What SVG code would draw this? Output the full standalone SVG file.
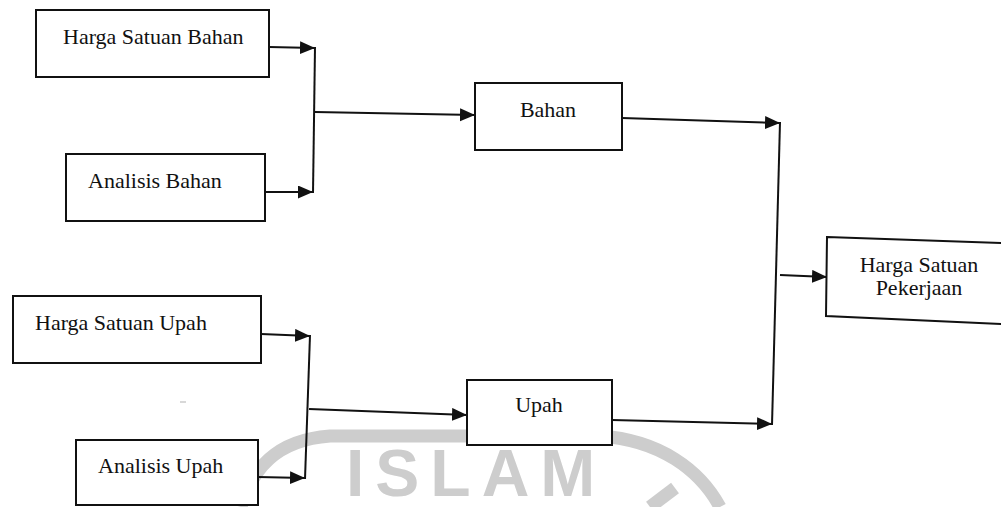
<svg xmlns="http://www.w3.org/2000/svg" width="1001" height="507" viewBox="0 0 1001 507">
<defs>
<style>
.box{fill:#fff;stroke:#111;stroke-width:2}
.lbl{font-size:22px;fill:#111}
.c{text-anchor:middle}
.ln{fill:none;stroke:#111;stroke-width:2}
.wm{fill:none;stroke:#cdcdcd;stroke-width:13}
</style>
<marker id="ah" markerUnits="userSpaceOnUse" markerWidth="16" markerHeight="14" refX="15" refY="6.5" orient="auto">
<path d="M0,0 L15,6.5 L0,13 z" fill="#111"/>
</marker>
</defs>
<rect width="1001" height="507" fill="#fff"/>
<g id="watermark">
<path class="wm" d="M241 507 C252 470 275 440 330 436 L600 436 C660 440 700 470 720 507"/>
<path class="wm" d="M675 488 L650 507"/>
<text x="346" y="496" font-family="Liberation Sans, Arial, sans-serif" font-weight="bold" font-size="66" letter-spacing="11" fill="#cdcdcd">ISLAM</text>
<rect x="180" y="401" width="6" height="2" fill="#d8d8d8"/>
</g>
<g id="connectors">
<line class="ln" x1="269" y1="47" x2="315" y2="48" marker-end="url(#ah)"/>
<line class="ln" x1="265" y1="192" x2="313" y2="192" marker-end="url(#ah)"/>
<line class="ln" x1="315" y1="47" x2="313" y2="193"/>
<line class="ln" x1="315" y1="112" x2="475" y2="115" marker-end="url(#ah)"/>
<line class="ln" x1="622" y1="118" x2="780" y2="123" marker-end="url(#ah)"/>
<line class="ln" x1="780" y1="122" x2="772" y2="425"/>
<line class="ln" x1="612" y1="420" x2="772" y2="424" marker-end="url(#ah)"/>
<line class="ln" x1="780" y1="275" x2="827" y2="277" marker-end="url(#ah)"/>
<line class="ln" x1="261" y1="334" x2="310" y2="336" marker-end="url(#ah)"/>
<line class="ln" x1="258" y1="477" x2="305" y2="478" marker-end="url(#ah)"/>
<line class="ln" x1="310" y1="335" x2="305" y2="479"/>
<line class="ln" x1="309" y1="409" x2="467" y2="415" marker-end="url(#ah)"/>
</g>
<g font-family="Liberation Serif, Times New Roman, DejaVu Serif, serif">
<g id="harga-satuan-bahan">
<rect class="box" x="36" y="10" width="233" height="67"/>
<text class="lbl" x="63" y="44">Harga Satuan Bahan</text>
</g>
<g id="analisis-bahan">
<rect class="box" x="66" y="154" width="199" height="67"/>
<text class="lbl" x="88" y="188">Analisis Bahan</text>
</g>
<g id="bahan">
<rect class="box" x="475" y="83" width="147" height="67"/>
<text class="lbl c" x="548" y="117">Bahan</text>
</g>
<g id="upah">
<rect class="box" x="467" y="380" width="145" height="65"/>
<text class="lbl c" x="539" y="412">Upah</text>
</g>
<g id="harga-satuan-pekerjaan">
<path class="box" d="M827 237 L1003 243 L1002 324 L826 316 Z"/>
<text class="lbl c" x="919" y="272">Harga Satuan</text>
<text class="lbl c" x="919" y="295">Pekerjaan</text>
</g>
<g id="harga-satuan-upah">
<rect class="box" x="13" y="296" width="248" height="67"/>
<text class="lbl" x="35" y="330">Harga Satuan Upah</text>
</g>
<g id="analisis-upah">
<rect class="box" x="76" y="440" width="182" height="65"/>
<text class="lbl" x="98" y="473">Analisis Upah</text>
</g>
</g>
</svg>
